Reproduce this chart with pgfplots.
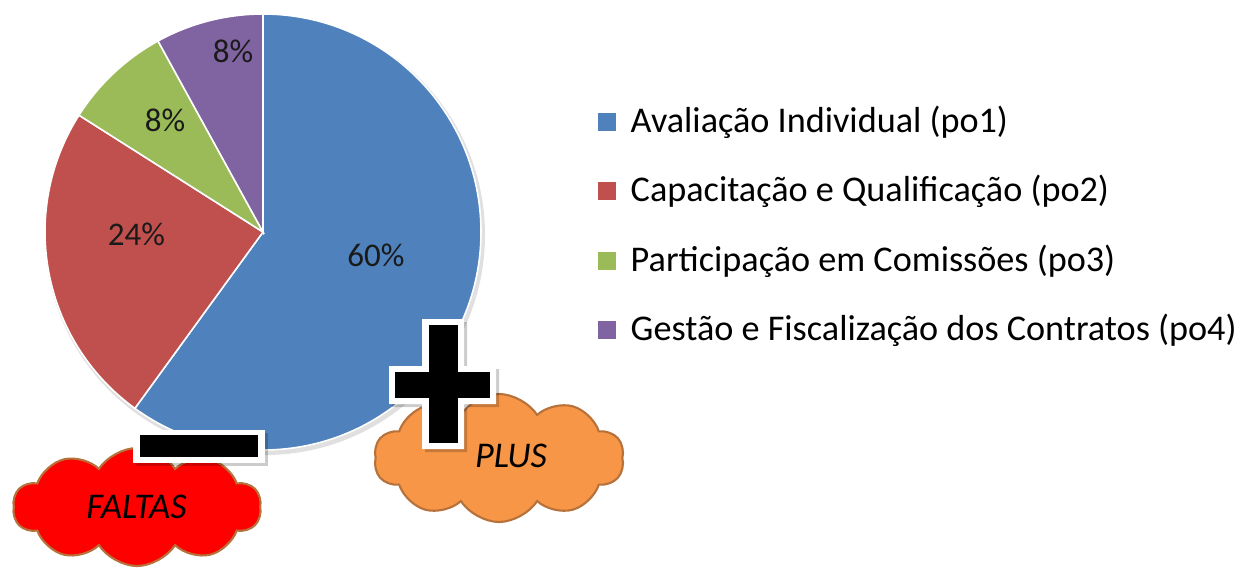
\documentclass[border=0pt]{standalone}
\usepackage{pgfplots}
\pgfplotsset{compat=1.18}
\usepackage{pgfplotstable}
\usepackage{fontspec}
\setmainfont{Carlito}
\usetikzlibrary{shapes.symbols}
\definecolor{pieblue}{HTML}{4F81BD}
\definecolor{piered}{HTML}{C0504D}
\definecolor{piegreen}{HTML}{9BBB59}
\definecolor{piepurple}{HTML}{8064A2}
\definecolor{cloudred}{HTML}{FF0000}
\definecolor{cloudorange}{HTML}{F79646}
\definecolor{cloudline}{HTML}{B7713A}
\definecolor{labeltext}{HTML}{1A1A1A}
\pgfplotstableread{
share
60
24
8
8
}\piedata
\begin{document}
\begin{tikzpicture}
\pgfplotstablegetelem{0}{share}\of\piedata \let\sA\pgfplotsretval
\pgfplotstablegetelem{1}{share}\of\piedata \let\sB\pgfplotsretval
\pgfplotstablegetelem{2}{share}\of\piedata \let\sC\pgfplotsretval
\pgfplotstablegetelem{3}{share}\of\piedata \let\sD\pgfplotsretval
\pgfmathsetmacro\angA{90}
\pgfmathsetmacro\angB{\angA-3.6*\sA}
\pgfmathsetmacro\angC{\angB-3.6*\sB}
\pgfmathsetmacro\angD{\angC-3.6*\sC}
\pgfmathsetmacro\angE{\angD-3.6*\sD}
\begin{axis}[
  width=12.51cm, height=5.74cm, scale only axis,
  xmin=0, xmax=1251, ymin=0, ymax=574,
  hide axis, clip=false,
]
\path (axis cs:0,0) rectangle (axis cs:1251,574);
% pie shadow
\fill[black, opacity=0.12] (axis cs:265,339) circle[radius=2.2cm];
% slices
\filldraw[pieblue, draw=white, line width=0.45pt] (axis cs:263,342) -- ++(\angA:2.18cm) arc[start angle=\angA, end angle=\angB, radius=2.18cm] -- cycle;
\filldraw[piered, draw=white, line width=0.45pt] (axis cs:263,342) -- ++(\angB:2.18cm) arc[start angle=\angB, end angle=\angC, radius=2.18cm] -- cycle;
\filldraw[piegreen, draw=white, line width=0.45pt] (axis cs:263,342) -- ++(\angC:2.18cm) arc[start angle=\angC, end angle=\angD, radius=2.18cm] -- cycle;
\filldraw[piepurple, draw=white, line width=0.45pt] (axis cs:263,342) -- ++(\angD:2.18cm) arc[start angle=\angD, end angle=\angE, radius=2.18cm] -- cycle;
% slice labels
\node[anchor=base, text=labeltext, font=\fontsize{9.4}{11}\selectfont, inner sep=0pt] at (axis cs:376,307) {60\%};
\node[anchor=base, text=labeltext, font=\fontsize{9.4}{11}\selectfont, inner sep=0pt] at (axis cs:136.5,328) {24\%};
\node[anchor=base, text=labeltext, font=\fontsize{9.4}{11}\selectfont, inner sep=0pt] at (axis cs:165,442) {8\%};
\node[anchor=base, text=labeltext, font=\fontsize{9.4}{11}\selectfont, inner sep=0pt] at (axis cs:233,511) {8\%};
% clouds
\node[cloud, cloud puffs=10, cloud puff arc=115, aspect=2.1, draw=cloudline, line width=0.6pt, fill=cloudred, minimum width=2.48cm, minimum height=1.18cm, inner sep=0pt] at (axis cs:137,67) {};
\node[cloud, cloud puffs=10, cloud puff arc=115, aspect=2.0, draw=cloudline, line width=0.6pt, fill=cloudorange, minimum width=2.5cm, minimum height=1.28cm, inner sep=0pt] at (axis cs:499,116) {};
\node[anchor=base, font=\fontsize{10.3}{12}\selectfont\itshape, inner sep=0pt] at (axis cs:136.5,56) {FALTAS};
\node[anchor=base, font=\fontsize{10.3}{12}\selectfont\itshape, inner sep=0pt] at (axis cs:511,107) {PLUS};
% minus sign
\fill[black, opacity=0.2] (axis cs:136,108) rectangle (axis cs:268,141);
\fill[white] (axis cs:133,111) rectangle (axis cs:265,144);
\fill[black] (axis cs:140,117) rectangle (axis cs:258,139);
% plus sign
\fill[black, opacity=0.2] (axis cs:425,122) -- (axis cs:467,122) -- (axis cs:467,167) -- (axis cs:499,167) -- (axis cs:499,205) -- (axis cs:467,205) -- (axis cs:467,252) -- (axis cs:425,252) -- (axis cs:425,205) -- (axis cs:392,205) -- (axis cs:392,167) -- (axis cs:425,167) -- cycle;
\fill[white] (axis cs:422,125) -- (axis cs:464,125) -- (axis cs:464,170) -- (axis cs:496,170) -- (axis cs:496,208) -- (axis cs:464,208) -- (axis cs:464,255) -- (axis cs:422,255) -- (axis cs:422,208) -- (axis cs:389,208) -- (axis cs:389,170) -- (axis cs:422,170) -- cycle;
\fill[black] (axis cs:429,131) rectangle (axis cs:458,249);
\fill[black] (axis cs:395,176) rectangle (axis cs:490,202);
% legend
\fill[pieblue] (axis cs:598,460.5) rectangle (axis cs:616,442.5);
\fill[piered] (axis cs:598,391.5) rectangle (axis cs:616,373.5);
\fill[piegreen] (axis cs:598,322.5) rectangle (axis cs:616,304.5);
\fill[piepurple] (axis cs:598,253.5) rectangle (axis cs:616,235.5);
\node[anchor=base west, font=\fontsize{10.3}{12}\selectfont, inner sep=0pt] at (axis cs:630,441) {Avaliação Individual (po1)};
\node[anchor=base west, font=\fontsize{10.3}{12}\selectfont, inner sep=0pt] at (axis cs:630,372) {Capacitação e Qualificação (po2)};
\node[anchor=base west, font=\fontsize{10.3}{12}\selectfont, inner sep=0pt] at (axis cs:630,303) {Participação em Comissões (po3)};
\node[anchor=base west, font=\fontsize{10.3}{12}\selectfont, inner sep=0pt] at (axis cs:630,234) {Gestão e Fiscalização dos Contratos (po4)};
\end{axis}
\end{tikzpicture}
\end{document}
